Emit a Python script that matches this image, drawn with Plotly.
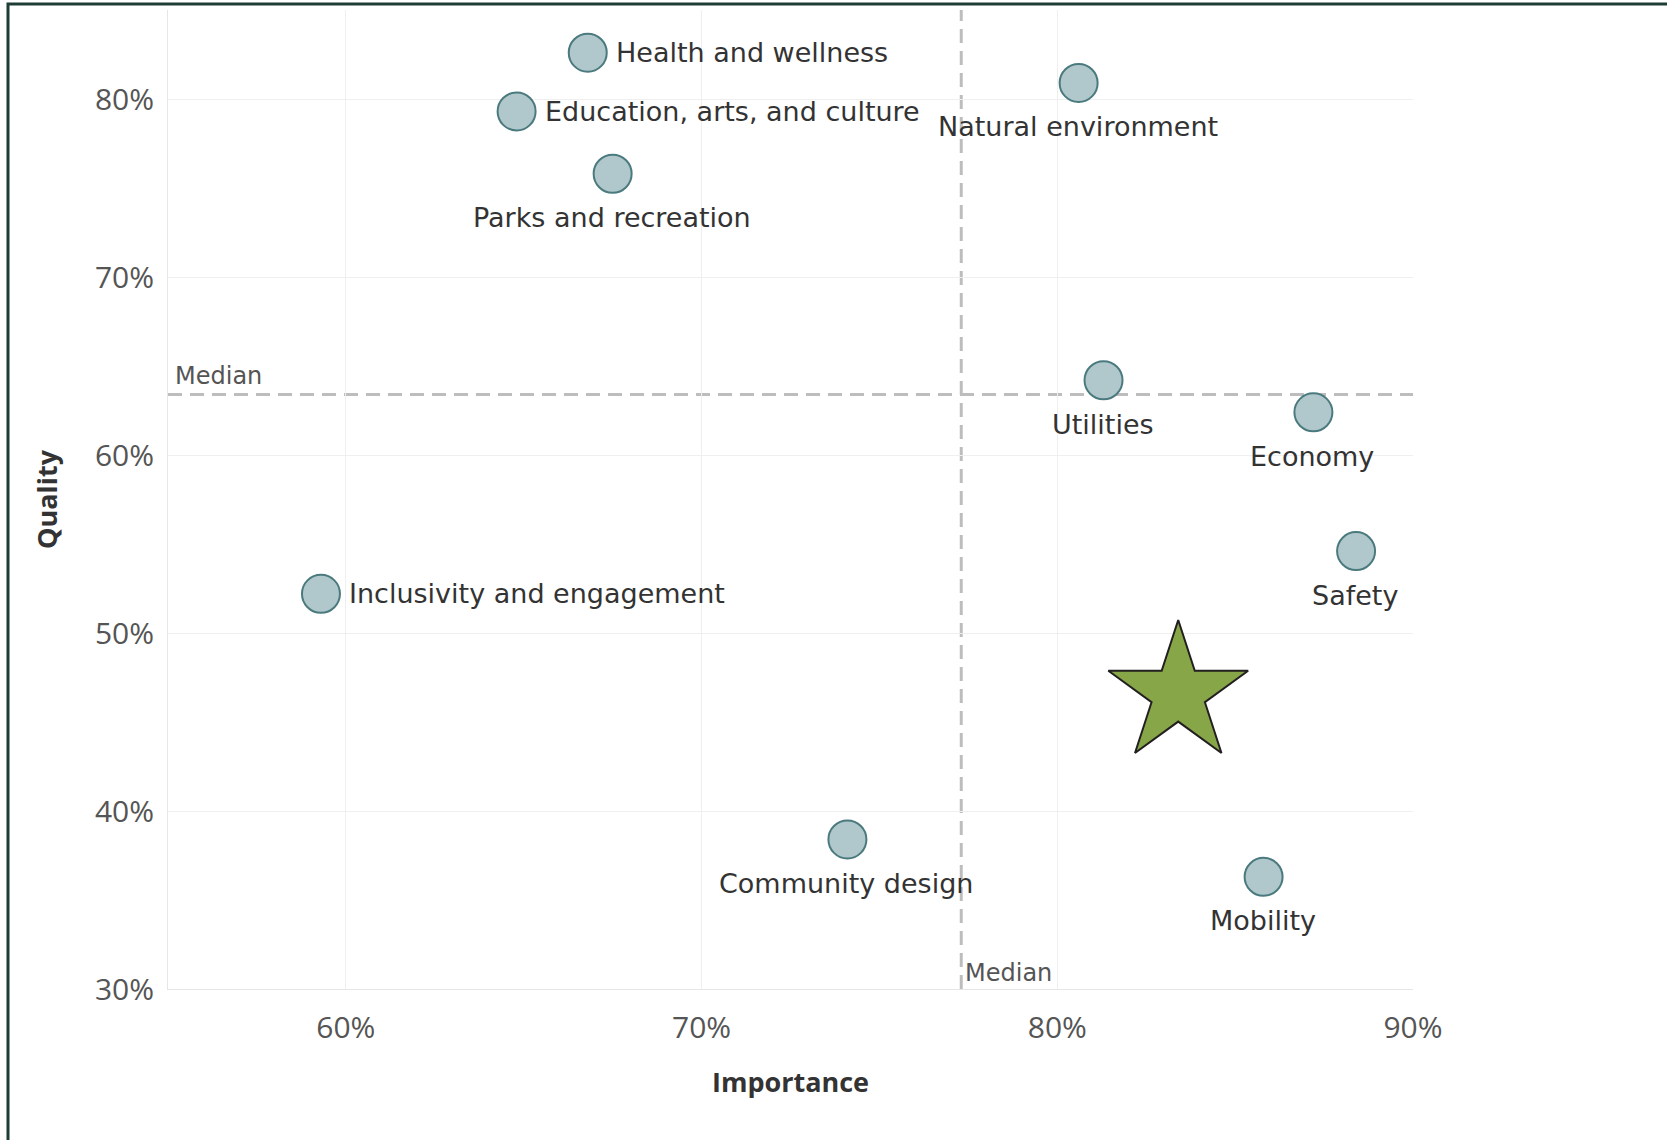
import plotly.graph_objects as go

# ---- data ----
categories = ["Health and wellness", "Education, arts, and culture", "Parks and recreation",
              "Natural environment", "Utilities", "Economy", "Safety",
              "Inclusivity and engagement", "Community design", "Mobility"]
importance = [66.8, 64.8, 67.5, 80.6, 81.3, 87.2, 88.4, 59.3, 74.1, 85.8]
quality = [82.6, 79.3, 75.8, 80.9, 64.2, 62.4, 54.6, 52.2, 38.4, 36.3]
label_side = ["right", "right", "below", "below", "below",
              "below", "below", "right", "below", "below"]

star_importance = [83.4]
star_quality = [46.6]

median_importance = 77.3
median_quality = 63.4

x_tickvals = [60, 70, 80, 90]
x_ticktext = ["60%", "70%", "80%", "90%"]
y_tickvals = [30, 40, 50, 60, 70, 80]
y_ticktext = ["30%", "40%", "50%", "60%", "70%", "80%"]

x_range = [55, 90]
y_range = [30, 85]

LABEL_FONT = "DejaVu Sans"
FONT = "Open Sans"

fig = go.Figure()

fig.add_trace(go.Scatter(
    x=importance, y=quality, mode="markers",
    marker=dict(size=38, color="#b0c8cb", line=dict(color="#4b7a7e", width=2)),
    hoverinfo="skip", showlegend=False, cliponaxis=False,
))

fig.add_trace(go.Scatter(
    x=star_importance, y=star_quality, mode="markers",
    marker=dict(symbol="star", size=105, color="#86a647", line=dict(color="#231f20", width=2)),
    hoverinfo="skip", showlegend=False, cliponaxis=False,
))

# point labels
for name, xv, yv, side in zip(categories, importance, quality, label_side):
    if side == "right":
        fig.add_annotation(x=xv, y=yv, text=name, showarrow=False,
                           xanchor="left", yanchor="middle", xshift=26,
                           font=dict(family=LABEL_FONT, size=27, color="#333333"))
    else:
        fig.add_annotation(x=xv, y=yv, text=name, showarrow=False,
                           xanchor="center", yanchor="middle", yshift=-44, xshift=-1,
                           font=dict(family=LABEL_FONT, size=27, color="#333333"))

# median lines
dash_line = dict(color="#bdbdbd", width=3, dash="14px,8px")
fig.add_shape(type="line", xref="x", yref="paper", x0=median_importance, x1=median_importance,
              y0=0, y1=1, line=dash_line, layer="below")
fig.add_shape(type="line", xref="paper", yref="y", x0=0, x1=1,
              y0=median_quality, y1=median_quality, line=dash_line, layer="below")

fig.add_annotation(xref="paper", yref="y", x=0.004, y=median_quality, text="Median",
                   showarrow=False, xanchor="left", yanchor="bottom", yshift=2,
                   font=dict(family=LABEL_FONT, size=24, color="#555555"))
fig.add_annotation(xref="x", yref="paper", x=median_importance, y=0, text="Median",
                   showarrow=False, xanchor="left", yanchor="bottom", xshift=2,
                   font=dict(family=LABEL_FONT, size=24, color="#555555"))

# outer dark border (top and left edges)
fig.add_shape(type="rect", xref="paper", yref="paper",
              x0=(8 - 168) / 1245, x1=1.25, y0=-0.2, y1=1 + (10 - 4) / 979,
              line=dict(color="#1e3d35", width=3), fillcolor="rgba(0,0,0,0)", layer="above")

fig.update_layout(
    width=1667, height=1140,
    margin=dict(l=168, r=254, t=10, b=151),
    paper_bgcolor="white", plot_bgcolor="white",
    font=dict(family=FONT, color="#333333"),
    xaxis=dict(
        range=x_range, tickvals=x_tickvals, ticktext=x_ticktext,
        showgrid=True, gridcolor="#efefef", gridwidth=1, zeroline=False,
        showline=True, linecolor="#e6e6e6", linewidth=1,
        tickfont=dict(family=FONT, size=30, color="#555555"),
        ticks="", ticklabelstandoff=12,
        title=dict(text="<b>Importance</b>", font=dict(family=FONT, size=27, color="#333333"),
                   standoff=27),
    ),
    yaxis=dict(
        range=y_range, tickvals=y_tickvals, ticktext=y_ticktext,
        showgrid=True, gridcolor="#efefef", gridwidth=1, zeroline=False,
        showline=True, linecolor="#e6e6e6", linewidth=1,
        tickfont=dict(family=FONT, size=30, color="#555555"),
        ticks="", ticklabelstandoff=7,
        title=dict(text="<b>Quality</b>", font=dict(family=FONT, size=27, color="#333333"),
                   standoff=29),
    ),
)

fig.write_html("out.html", config={"displayModeBar": False},
               post_script="document.body.style.margin='0px';")
